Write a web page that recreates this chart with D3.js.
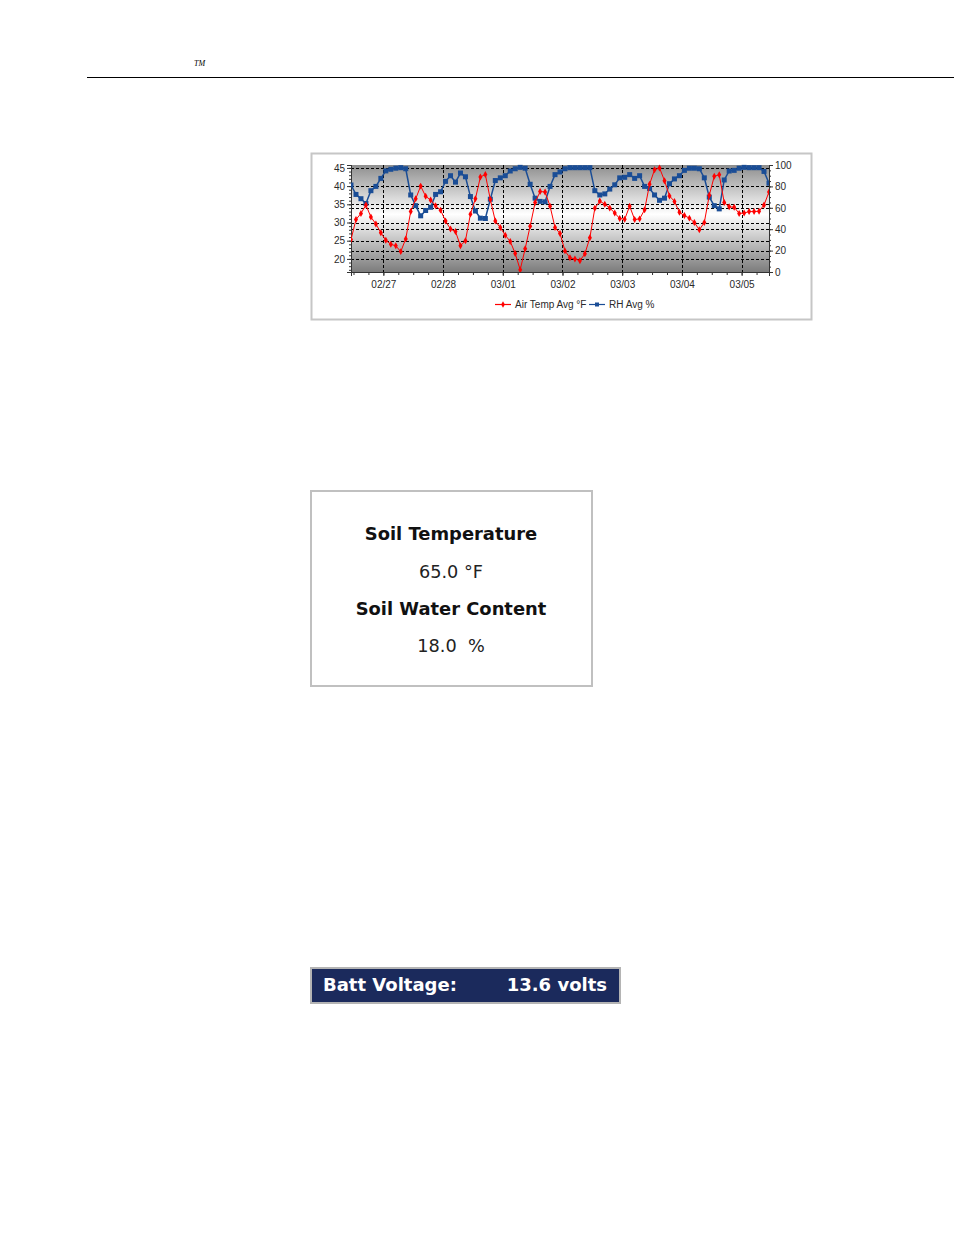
<!DOCTYPE html>
<html>
<head>
<meta charset="utf-8">
<script src="https://cdn.jsdelivr.net/npm/d3@7"></script>
<style>
  html, body { margin: 0; padding: 0; background: #fff; }
  svg { display: block; }
  .tick-lbl { font-family: "Liberation Sans", Arial, sans-serif; font-size: 10px; fill: #2a2a2a; }
  .box-title { font-family: "DejaVu Sans", Verdana, sans-serif; font-weight: bold; font-size: 17.9px; fill: #111; }
  .box-val { font-family: "DejaVu Sans", Verdana, sans-serif; font-size: 17.7px; fill: #222; white-space: pre; }
  .batt { font-family: "DejaVu Sans", Verdana, sans-serif; font-weight: bold; font-size: 18px; fill: #fff; }
</style>
</head>
<body>
<svg id="page" width="954" height="1235"></svg>
<script>
// --- data, one reading every 2 hours from 02/26 11:00 ---
const startTime = new Date(2009, 1, 26, 11, 0);
const stepHours = 2;

const airTemp = [
  25.3, 30.8, 32.5, 34.8, 31.5, 29.6, 27.2, 25.1, 24.0, 23.6,
  22.0, 25.5, 33.0, 36.5, 40.0, 37.2, 36.2, 34.6, 33.4, 30.4,
  28.2, 27.5, 23.6, 25.0, 32.3, 36.5, 42.5, 43.2, 36.3, 30.4,
  28.6, 26.5, 24.8, 21.5, 17.0, 22.8, 29.0, 35.5, 38.5, 38.4,
  34.5, 28.6, 27.0, 22.2, 20.3, 20.0, 19.5, 21.4, 25.8, 33.9,
  35.9, 35.0, 34.0, 32.6, 31.1, 30.9, 34.5, 30.8, 31.0, 33.5,
  40.5, 44.5, 45.0, 41.5, 37.3, 35.8, 32.8, 31.9, 31.2, 30.0,
  28.0, 30.0, 37.5, 42.7, 43.1, 35.5, 34.3, 34.2, 32.5, 32.6,
  33.0, 33.0, 33.1, 34.8, 38.4
];

const rhAvg = [
  81.3, 72.5, 68.5, 64.0, 76.0, 80.0, 87.5, 94.5, 96.0, 97.0,
  97.5, 96.5, 72.0, 62.0, 52.5, 57.5, 60.5, 72.5, 75.0, 84.7,
  90.0, 84.0, 92.5, 89.0, 70.5, 57.0, 50.3, 50.0, 68.0, 85.5,
  88.0, 90.0, 94.4, 96.5, 97.8, 97.0, 82.0, 69.0, 66.0, 65.6,
  80.0, 91.0, 93.5, 96.5, 97.5, 97.5, 97.5, 97.5, 97.5, 76.0,
  72.0, 73.0, 77.5, 81.5, 88.0, 88.5, 91.0, 87.5, 90.0, 80.0,
  78.0, 72.0, 67.0, 69.0, 82.5, 87.0, 90.0, 95.0, 97.0, 97.0,
  96.5, 88.0, 70.0, 62.0, 59.0, 86.0, 94.4, 95.0, 97.0, 97.8,
  97.5, 97.5, 97.5, 94.0, 83.0
];

const tempTicks = [20, 25, 30, 35, 40, 45];
const rhTicks = [0, 20, 40, 60, 80, 100];
const tempDomain = [16.4, 45.8];
const rhDomain = [0, 100];
const legendLabels = ["Air Temp Avg °F", "RH Avg %"];

const soilLabels = ["Soil Temperature", "Soil Water Content"];
const soilValues = ["65.0 °F", "18.0  %"];
const battLabel = "Batt Voltage:";
const battValue = "13.6 volts";

const tempColor = "#ff0000";
const rhColor = "#1a4d96";

// ---------------------------------------------------------------------------
const svg = d3.select("#page");

// page header
svg.append("text")
  .attr("x", 194).attr("y", 66)
  .style("font-family", "'Liberation Serif', serif")
  .style("font-style", "italic")
  .style("font-size", "8px")
  .text("TM");
svg.append("line")
  .attr("x1", 87).attr("x2", 954).attr("y1", 77.5).attr("y2", 77.5)
  .attr("stroke", "#000").attr("stroke-width", 1);

// chart frame
svg.append("rect")
  .attr("x", 311.5).attr("y", 153.5).attr("width", 500).attr("height", 166)
  .attr("fill", "#fff").attr("stroke", "#c6c6c6").attr("stroke-width", 2);

const plot = { left: 351, right: 769, top: 165, bottom: 272 };
const times = airTemp.map((d, i) => d3.timeHour.offset(startTime, i * stepHours));

const x = d3.scaleTime()
  .domain([startTime, d3.timeDay.offset(startTime, 7)])
  .range([plot.left, plot.right]);
const yT = d3.scaleLinear().domain(tempDomain).range([plot.bottom, plot.top]);
const yR = d3.scaleLinear().domain(rhDomain).range([plot.bottom, plot.top]);

const defs = svg.append("defs");
const grad = defs.append("linearGradient").attr("id", "bg").attr("x1", 0).attr("x2", 0).attr("y1", 0).attr("y2", 1);
grad.append("stop").attr("offset", "0%").attr("stop-color", "#8e8e8e");
grad.append("stop").attr("offset", "46%").attr("stop-color", "#ffffff");
grad.append("stop").attr("offset", "100%").attr("stop-color", "#7c7c7c");
defs.append("clipPath").attr("id", "clip").append("rect")
  .attr("x", plot.left).attr("y", plot.top - 3)
  .attr("width", plot.right - plot.left).attr("height", plot.bottom - plot.top + 3);

svg.append("rect")
  .attr("x", plot.left).attr("y", plot.top)
  .attr("width", plot.right - plot.left).attr("height", plot.bottom - plot.top)
  .attr("fill", "url(#bg)");

// grid
const grid = svg.append("g")
  .attr("stroke", "#000").attr("stroke-width", 1).attr("stroke-dasharray", "3,2");
grid.selectAll(".gt").data(tempTicks).join("line")
  .attr("x1", plot.left).attr("x2", plot.right)
  .attr("y1", (d) => Math.round(yT(d)) + 0.5).attr("y2", (d) => Math.round(yT(d)) + 0.5);
grid.selectAll(".gr").data(rhTicks.slice(1, -1)).join("line")
  .attr("class", "gr")
  .attr("x1", plot.left).attr("x2", plot.right)
  .attr("y1", (d) => Math.round(yR(d)) + 0.5).attr("y2", (d) => Math.round(yR(d)) + 0.5);
const days = d3.timeDay.range(d3.timeDay.ceil(startTime), x.domain()[1]);
grid.selectAll(".gx").data(days).join("line")
  .attr("class", "gx")
  .attr("x1", (d) => Math.round(x(d)) + 0.5).attr("x2", (d) => Math.round(x(d)) + 0.5)
  .attr("y1", plot.top).attr("y2", plot.bottom);

// axes
const xAxis = d3.axisBottom(x).tickValues(days).tickFormat(d3.timeFormat("%m/%d")).tickSize(4).tickPadding(5);
const xMinor = d3.axisBottom(x).tickValues(d3.timeHour.every(6).range(startTime, x.domain()[1])).tickFormat("").tickSize(3);
const yLeft = d3.axisLeft(yT).tickValues(tempTicks).tickSize(4).tickPadding(2);
const yLeftMinor = d3.axisLeft(yT).tickValues(d3.range(17, 46, 1)).tickFormat("").tickSize(2);
const yRight = d3.axisRight(yR).tickValues(rhTicks).tickSize(4).tickPadding(2);
const yRightMinor = d3.axisRight(yR).tickValues(d3.range(5, 100, 5)).tickFormat("").tickSize(2);

function styleAxis(g) {
  g.select(".domain").attr("stroke", "#333");
  g.selectAll(".tick line").attr("stroke", "#333");
  g.selectAll(".tick text").attr("class", "tick-lbl").attr("fill", null);
  g.attr("font-size", null).attr("font-family", null);
}
svg.append("g").attr("transform", `translate(0,${plot.bottom})`).call(xMinor).call(styleAxis);
svg.append("g").attr("transform", `translate(0,${plot.bottom})`).call(xAxis).call(styleAxis);
svg.append("g").attr("transform", `translate(${plot.left},0)`).call(yLeftMinor).call(styleAxis);
svg.append("g").attr("transform", `translate(${plot.left},0)`).call(yLeft).call(styleAxis);
svg.append("g").attr("transform", `translate(${plot.right},0)`).call(yRightMinor).call(styleAxis);
svg.append("g").attr("transform", `translate(${plot.right},0)`).call(yRight).call(styleAxis);

// series
const series = svg.append("g").attr("clip-path", "url(#clip)");
const rhLine = d3.line().x((d, i) => x(times[i])).y((d) => yR(d));
const tLine = d3.line().x((d, i) => x(times[i])).y((d) => yT(d));

series.append("path").datum(rhAvg)
  .attr("d", rhLine).attr("fill", "none").attr("stroke", rhColor).attr("stroke-width", 1.5);
series.selectAll(".rhm").data(rhAvg).join("rect")
  .attr("class", "rhm")
  .attr("x", (d, i) => x(times[i]) - 2.5).attr("y", (d) => yR(d) - 2.5)
  .attr("width", 5).attr("height", 5).attr("fill", rhColor);

series.append("path").datum(airTemp)
  .attr("d", tLine).attr("fill", "none").attr("stroke", tempColor).attr("stroke-width", 1);
series.selectAll(".tm").data(airTemp).join("path")
  .attr("class", "tm")
  .attr("transform", (d, i) => `translate(${x(times[i])},${yT(d)})`)
  .attr("d", d3.symbol(d3.symbolDiamond, 14))
  .attr("fill", tempColor);

// legend
const legend = svg.append("g").attr("transform", "translate(0,304)");
const legendItems = [
  { label: legendLabels[0], color: tempColor, x: 495, square: false },
  { label: legendLabels[1], color: rhColor, x: 589, square: true }
];
legendItems.forEach((it) => {
  legend.append("line").attr("x1", it.x).attr("x2", it.x + 16).attr("y1", 0.5).attr("y2", 0.5)
    .attr("stroke", it.color).attr("stroke-width", 1.2);
  if (it.square) {
    legend.append("rect").attr("x", it.x + 6).attr("y", -1.5).attr("width", 4).attr("height", 4).attr("fill", it.color);
  } else {
    legend.append("path").attr("transform", `translate(${it.x + 8},0.5)`)
      .attr("d", d3.symbol(d3.symbolDiamond, 12)).attr("fill", it.color);
  }
  legend.append("text").attr("class", "tick-lbl").attr("x", it.x + 20).attr("y", 3.5).text(it.label);
});

// soil box
svg.append("rect")
  .attr("x", 311).attr("y", 491).attr("width", 281).attr("height", 195)
  .attr("fill", "#fff").attr("stroke", "#c0c0c0").attr("stroke-width", 2);
const soilY = [540, 577.5, 614.5, 652];
soilLabels.forEach((lbl, i) => {
  svg.append("text").attr("class", "box-title").attr("x", 451).attr("y", soilY[i * 2])
    .attr("text-anchor", "middle").text(lbl);
  svg.append("text").attr("class", "box-val").attr("x", 451).attr("y", soilY[i * 2 + 1])
    .attr("text-anchor", "middle").attr("xml:space", "preserve").text(soilValues[i]);
});

// battery box
svg.append("rect")
  .attr("x", 311).attr("y", 968).attr("width", 309).attr("height", 35)
  .attr("fill", "#1b2a5c").attr("stroke", "#b4b4b4").attr("stroke-width", 2);
svg.append("text").attr("class", "batt").attr("x", 323).attr("y", 991).text(battLabel);
svg.append("text").attr("class", "batt").attr("x", 607).attr("y", 991)
  .attr("text-anchor", "end").text(battValue);
</script>
</body>
</html>
